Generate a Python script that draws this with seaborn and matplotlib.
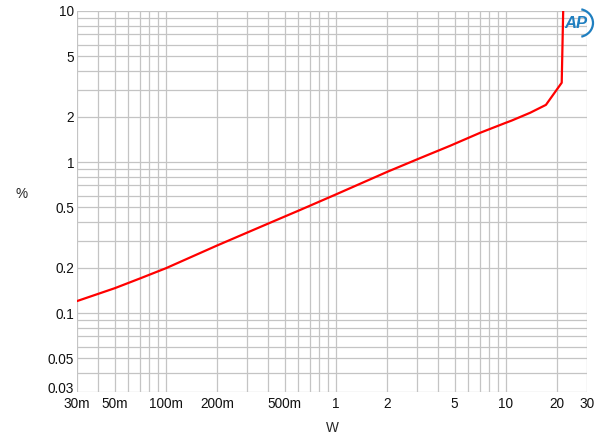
import numpy as np
import pandas as pd
import matplotlib
matplotlib.use("Agg")
import matplotlib.pyplot as plt
import matplotlib.transforms as mtransforms
import seaborn as sns
from matplotlib.patches import Arc

# datos (potencia en W, distorsion en %)
power_w = [0.03, 0.05, 0.07, 0.1, 0.2, 0.31, 0.41, 0.615, 1.0, 2.0, 3.12, 4.69, 7.04,
           10.0, 10.8, 13.9, 17.2, 21.3, 21.8]
thd_pct = [0.12, 0.146, 0.169, 0.198, 0.28, 0.346, 0.396, 0.481, 0.61, 0.86, 1.06, 1.28, 1.56,
           1.82, 1.88, 2.12, 2.39, 3.35, 12.0]

x_ticks = [0.03, 0.05, 0.1, 0.2, 0.5, 1, 2, 5, 10, 20, 30]
x_labels = ["30m", "50m", "100m", "200m", "500m", "1", "2", "5", "10", "20", "30"]
y_ticks = [0.03, 0.05, 0.1, 0.2, 0.5, 1, 2, 5, 10]
y_labels = ["0.03", "0.05", "0.1", "0.2", "0.5", "1", "2", "5", "10"]

df = pd.DataFrame({"W": power_w, "pct": thd_pct})

sns.set_style("white")
plt.rcParams['font.family'] = ['Liberation Sans', 'DejaVu Sans']

fig = plt.figure(figsize=(6, 4.36), dpi=100)
ax = fig.add_axes([77 / 600, 44 / 436, 510 / 600, 381 / 436])

ax.set_xscale("log")
ax.set_yscale("log")
ax.set_xlim(0.03, 30)
ax.set_ylim(0.03, 10)

# rejilla mayor y menor
ax.grid(True, which="both", color="#c4c4c4", linewidth=0.9)
ax.set_axisbelow(True)

sns.lineplot(data=df, x="W", y="pct", ax=ax, color="#ff0000", linewidth=1.6, sort=False)

ax.set_xticks(x_ticks)
ax.set_xticklabels(x_labels)
ax.set_yticks(y_ticks)
ax.set_yticklabels(y_labels)
ax.xaxis.set_minor_formatter(matplotlib.ticker.NullFormatter())
ax.yaxis.set_minor_formatter(matplotlib.ticker.NullFormatter())
ax.tick_params(which="both", length=0, labelsize=9.8, colors="#111111")
ax.tick_params(axis="y", pad=2)
ax.tick_params(axis="x", pad=3.5)

# subir un poco la etiqueta 0.03 para que no pise a 30m
lab0 = ax.get_yticklabels()[0]
lab0.set_transform(lab0.get_transform() + mtransforms.ScaledTranslation(0, 3 / 72, fig.dpi_scale_trans))

for s in ax.spines.values():
    s.set_visible(False)

ax.set_xlabel("W", fontsize=9.8, labelpad=7)
ax.set_ylabel("%", fontsize=9.8, rotation=0, labelpad=0)
ax.yaxis.set_label_coords(-0.108, 0.50)

# logo AP
fig.text(576 / 600, 1 - 24 / 436, "AP", color="#1f7fc0", fontsize=12, fontstyle="italic",
         fontweight="bold", ha="center", va="center")
fig.patches.append(Arc((578 / 600, 1 - 23 / 436), 30 / 600, 28 / 436, theta1=-80, theta2=80,
                       color="#1f7fc0", linewidth=1.6, transform=fig.transFigure))

plt.savefig("out.png", dpi=100)
plt.close()
